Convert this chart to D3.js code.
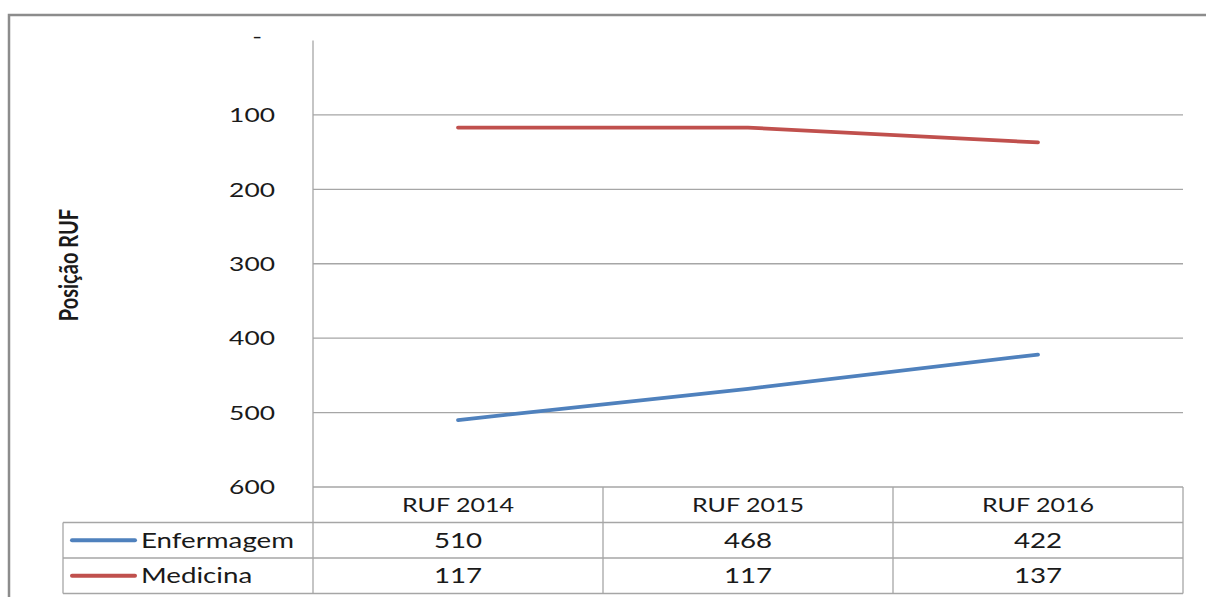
<!DOCTYPE html>
<html>
<head>
<meta charset="utf-8">
<script src="https://cdn.jsdelivr.net/npm/d3@7"></script>
<style>
  body { margin: 0; background: #fff; }
  text { font-family: Lato, "Open Sans", sans-serif; fill: #1a1a1a; }
</style>
</head>
<body>
<div id="chart"></div>
<script>
const width = 1206;
const height = 597;
const margin = {'top': 40.5, 'left': 313, 'right': 23, 'bottom': 110};

// data
const categories = ['RUF 2014', 'RUF 2015', 'RUF 2016'];
const seriesNames = ['Enfermagem', 'Medicina'];
const enfermagem = [510, 468, 422];
const medicina = [117, 117, 137];
const yTicks = [0, 100, 200, 300, 400, 500, 600];
const colors = ['#4f81bd', '#c0504d'];

const series = [enfermagem, medicina];
const sx = 1.32; // horizontal stretch of the source picture

const svg = d3.select('#chart')
  .append('svg')
  .attr('width', width)
  .attr('height', height);

// outer frame
svg.append('rect')
  .attr('x', 9).attr('y', 15)
  .attr('width', 1220).attr('height', 620)
  .attr('fill', 'none')
  .attr('stroke', '#8c8c8c')
  .attr('stroke-width', 2.5);

// scales
const x = d3.scaleBand()
  .domain(categories)
  .range([margin.left, width - margin.right]);

const y = d3.scaleLinear()
  .domain([0, 600])
  .range([margin.top, height - margin.bottom]);

const plotBottom = y(600);
const rowH = 35.5;
const tableBottom = plotBottom + rowH * 3;

// gridlines
svg.append('g')
  .selectAll('line')
  .data(yTicks.filter(d => d > 0))
  .join('line')
  .attr('x1', margin.left).attr('x2', width - margin.right)
  .attr('y1', d => y(d)).attr('y2', d => y(d))
  .attr('stroke', '#a6a6a6')
  .attr('stroke-width', 1.3);

// y axis line
svg.append('line')
  .attr('x1', margin.left).attr('x2', margin.left)
  .attr('y1', y(0)).attr('y2', tableBottom)
  .attr('stroke', '#a6a6a6')
  .attr('stroke-width', 1.3);

// tick labels
svg.append('g')
  .selectAll('text')
  .data(yTicks)
  .join('text')
  .attr('transform', d => 'translate(' + (d === 0 ? 262 : 275) + ',' + y(d) + ') scale(' + sx + ',1)')
  .attr('text-anchor', 'end')
  .attr('dy', d => d === 0 ? '0.1em' : '0.36em')
  .attr('font-size', 20)
  .text(d => d === 0 ? '-' : d);

// axis title
svg.append('text')
  .attr('transform', 'translate(78,265) scale(' + sx + ',1) rotate(-90)')
  .attr('text-anchor', 'middle')
  .attr('font-size', 20)
  .attr('font-weight', 'bold')
  .attr('font-family', '"Open Sans", sans-serif')
  .text('Posição RUF');

// lines
const line = d3.line()
  .x((d, i) => x(categories[i]) + x.bandwidth() / 2)
  .y(d => y(d));

svg.append('g')
  .selectAll('path')
  .data(series)
  .join('path')
  .attr('fill', 'none')
  .attr('stroke', (d, i) => colors[i])
  .attr('stroke-width', 3.8)
  .attr('stroke-linejoin', 'round')
  .attr('stroke-linecap', 'round')
  .attr('d', line);

// data table
const table = svg.append('g')
  .attr('stroke', '#a6a6a6')
  .attr('stroke-width', 1.3);

const tableLeft = 63;
// horizontal rules
[1, 2, 3].forEach(r => {
  table.append('line')
    .attr('x1', tableLeft)
    .attr('x2', width - margin.right)
    .attr('y1', plotBottom + rowH * r).attr('y2', plotBottom + rowH * r);
});
table.append('line')
  .attr('x1', tableLeft).attr('x2', tableLeft)
  .attr('y1', plotBottom + rowH).attr('y2', tableBottom);
categories.forEach(c => {
  table.append('line')
    .attr('x1', x(c) + x.bandwidth()).attr('x2', x(c) + x.bandwidth())
    .attr('y1', plotBottom).attr('y2', tableBottom);
});

// header labels
svg.append('g')
  .selectAll('text')
  .data(categories)
  .join('text')
  .attr('transform', d => 'translate(' + (x(d) + x.bandwidth() / 2) + ',' + (plotBottom + rowH / 2) + ') scale(' + sx + ',1)')
  .attr('text-anchor', 'middle')
  .attr('dy', '0.36em')
  .attr('font-size', 19)
  .text(d => d);

// series rows
series.forEach((vals, i) => {
  const cy = plotBottom + rowH * (i + 1.5);
  svg.append('line')
    .attr('x1', 72).attr('x2', 135)
    .attr('y1', cy).attr('y2', cy)
    .attr('stroke', colors[i])
    .attr('stroke-width', 4)
    .attr('stroke-linecap', 'round');
  svg.append('text')
    .attr('transform', 'translate(141,' + cy + ') scale(' + sx + ',1)')
    .attr('dy', '0.36em')
    .attr('font-size', 21)
    .text(seriesNames[i]);
  svg.append('g')
    .selectAll('text')
    .data(vals)
    .join('text')
    .attr('transform', (d, j) => 'translate(' + (x(categories[j]) + x.bandwidth() / 2) + ',' + cy + ') scale(' + sx + ',1)')
    .attr('text-anchor', 'middle')
    .attr('dy', '0.36em')
    .attr('font-size', 21)
    .text(d => d);
});
</script>
</body>
</html>
